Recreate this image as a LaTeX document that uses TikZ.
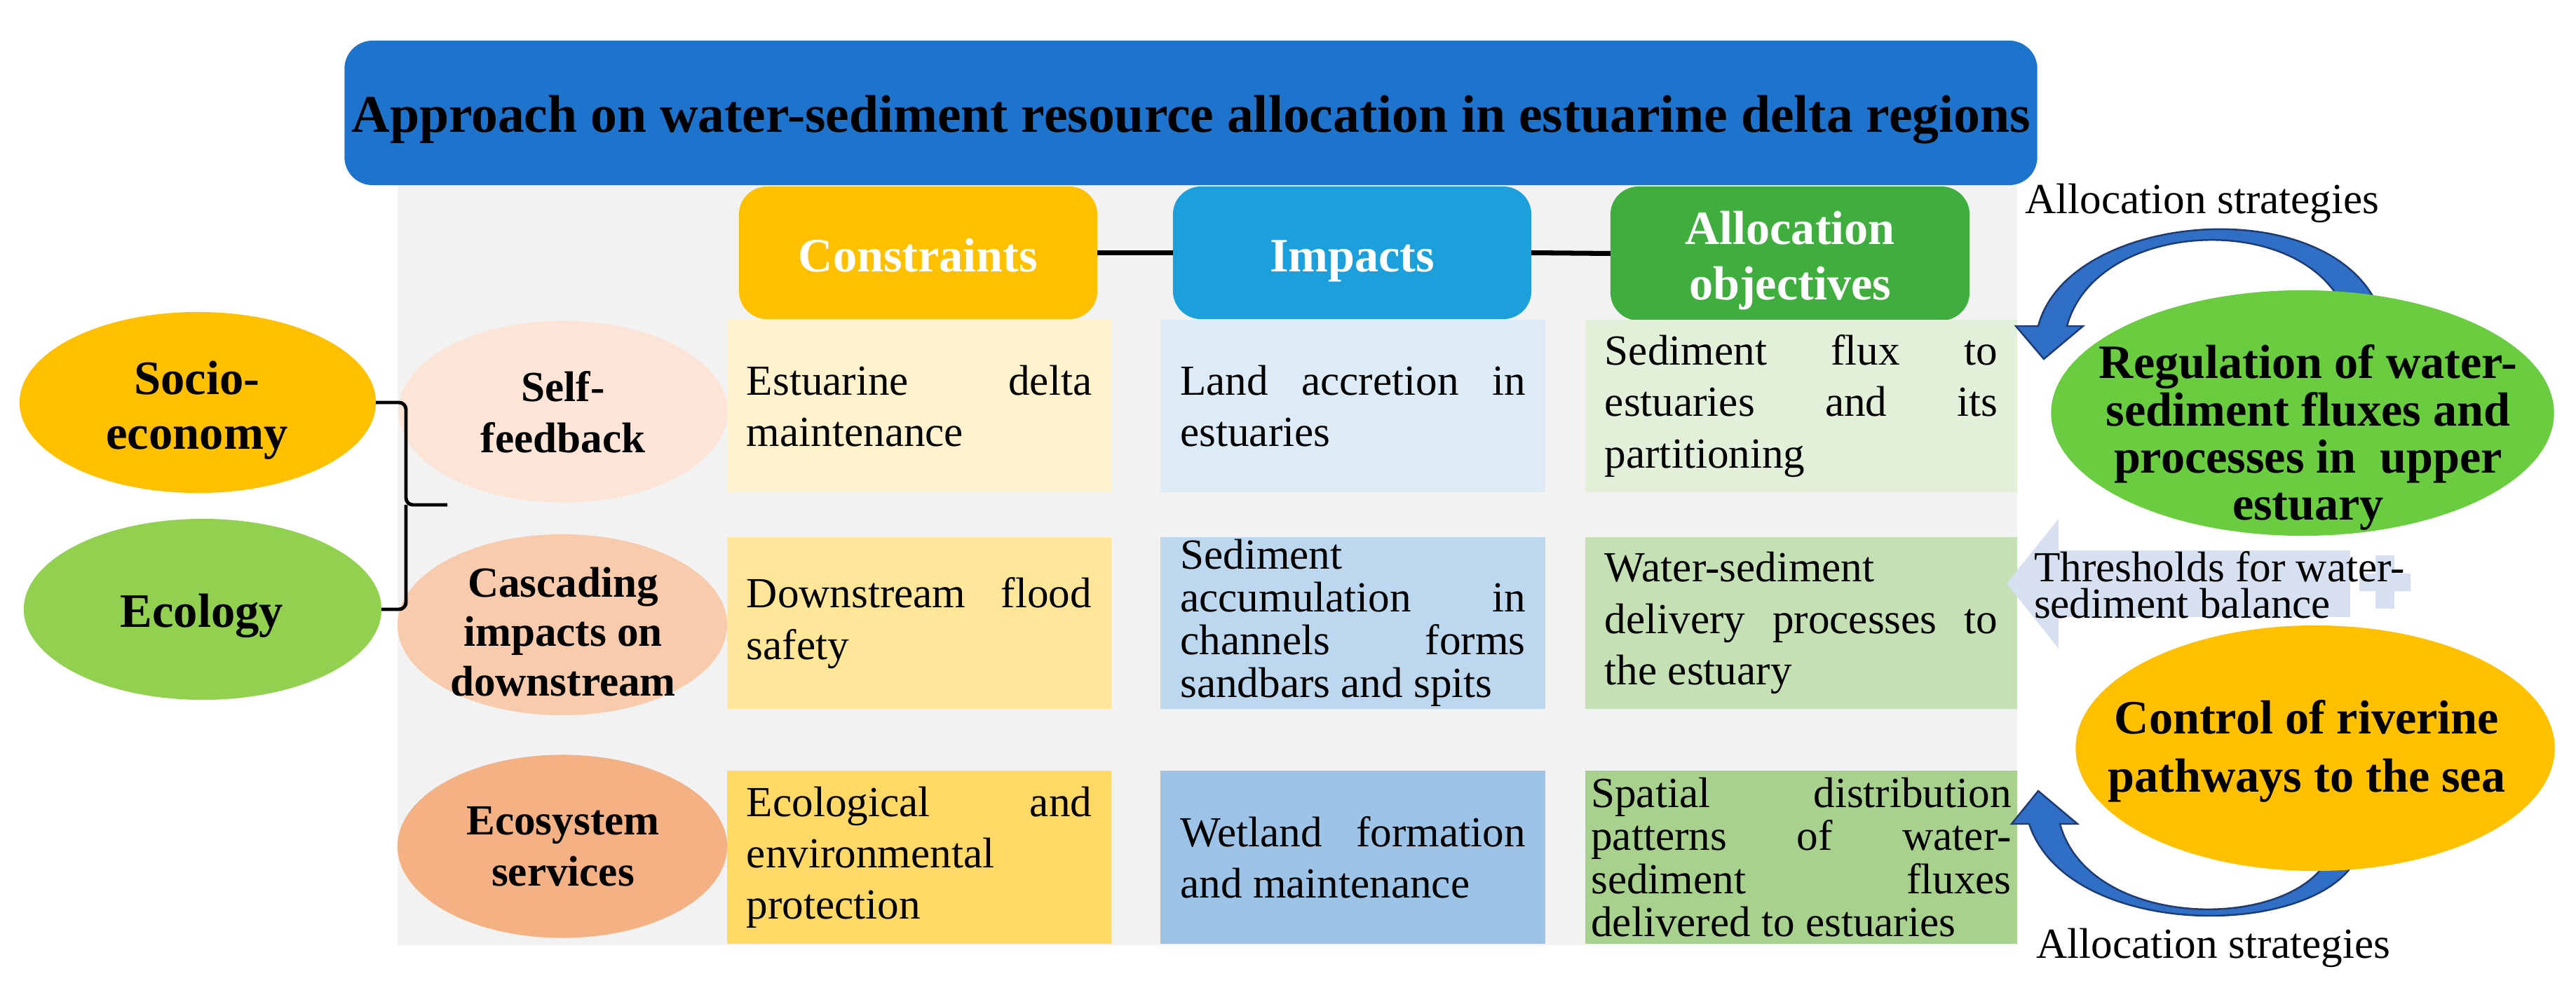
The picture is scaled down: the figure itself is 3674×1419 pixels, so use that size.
\documentclass[tikz,border=0pt]{standalone}
\usepackage{fontspec}
\setmainfont{Liberation Serif}
\usetikzlibrary{shapes.geometric}
\hyphenpenalty=10000
\exhyphenpenalty=10000
\definecolor{titleblue}{HTML}{1E73CD}
\definecolor{bggrey}{HTML}{F2F2F2}
\definecolor{hcons}{HTML}{FFC000}
\definecolor{himp}{HTML}{1CA0DC}
\definecolor{halloc}{HTML}{3FAE3F}
\definecolor{cA}{HTML}{FFF2CC}
\definecolor{cB}{HTML}{FFE699}
\definecolor{cC}{HTML}{FFD966}
\definecolor{iA}{HTML}{DDEBF7}
\definecolor{iB}{HTML}{BDD7EE}
\definecolor{iC}{HTML}{9DC3E6}
\definecolor{aA}{HTML}{E2F0D9}
\definecolor{aB}{HTML}{C5E0B4}
\definecolor{aC}{HTML}{A9D18E}
\definecolor{eA}{HTML}{FCE4D6}
\definecolor{eB}{HTML}{F8CBAD}
\definecolor{eC}{HTML}{F4B183}
\definecolor{sociocol}{HTML}{FFC000}
\definecolor{ecocol}{HTML}{92D050}
\definecolor{regcol}{HTML}{6ACD3F}
\definecolor{ctrlcol}{HTML}{FFC000}
\definecolor{arrowblue}{HTML}{2F6FC6}
\definecolor{arrowdark}{HTML}{1F3B73}
\definecolor{fadeblue}{HTML}{D6E0F0}
\begin{document}
\begin{tikzpicture}[x=0.01cm,y=-0.01cm,
  every node/.style={inner sep=0pt, outer sep=0pt},
  titlebox/.style={rectangle, rounded corners=0.4cm, fill=titleblue, minimum width=24.13cm, minimum height=2.06cm},
  ttext/.style={font=\fontsize{21.5}{25}\selectfont\bfseries},
  hdr/.style={rectangle, rounded corners=0.4cm, minimum width=5.11cm, minimum height=1.89cm},
  htext/.style={text=white, font=\fontsize{19.4}{22.5}\selectfont\bfseries, align=center},
  cell/.style={rectangle, minimum height=2.45cm, align=justify, font=\fontsize{17.4}{20.8}\selectfont},
  ccol/.style={cell, minimum width=5.48cm, text width=4.92cm},
  icol/.style={cell, minimum width=5.49cm, text width=4.92cm},
  acol/.style={cell, minimum width=6.16cm, text width=5.60cm},
  tight/.style={font=\fontsize{17.4}{17.4}\selectfont},
  ellip/.style={ellipse},
  btext/.style={font=\fontsize{19.5}{22}\selectfont\bfseries, align=center},
  etext/.style={font=\fontsize{17.4}{20.8}\selectfont\bfseries, align=center},
  rtext/.style={font=\fontsize{19.4}{19.1}\selectfont\bfseries, align=center},
  plain/.style={font=\fontsize{17.4}{20.8}\selectfont},
  brace/.style={draw=black, line width=1.4pt},
  conn/.style={draw=black, line width=2pt},
  barrow/.style={fill=arrowblue, draw=arrowdark, line width=0.7pt, line join=miter}
]
\useasboundingbox (0,0) rectangle (3674,1419);

% background panel
\fill[bggrey] (567,264) rectangle (2877,1348);

% title
\node[titlebox] (title) at (1698.5,161) {};
\node[ttext, anchor=base] (titlet) at (1698.5,189) {Approach on water-sediment resource allocation in estuarine delta regions};

% headers
\node[hdr, fill=hcons] (hc) at (1309.5,360.5) {};
\node[hdr, fill=himp] (hi) at (1928.5,360.5) {};
\node[hdr, fill=halloc, minimum width=5.12cm, minimum height=1.91cm] (ha) at (2553,361.5) {};
\node[htext, anchor=base] (hct) at (1309.5,388) {Constraints};
\node[htext, anchor=base] (hit) at (1928.5,388) {Impacts};
\node[htext, font=\fontsize{19.4}{22.5}\selectfont\bfseries] (hat) at (2553,372) {Allocation\\objectives};
\draw[conn] (hc.east) -- (hi.west);
\draw[conn] (hi.east) -- (ha.west);

% constraint cells
\node[ccol, fill=cA] (c1) at (1311,579) {Estuarine delta\linebreak maintenance};
\node[ccol, fill=cB] (c2) at (1311,888.5) {Downstream flood\linebreak safety};
\node[ccol, fill=cC, minimum height=2.47cm] (c3) at (1311,1222.5) {Ecological and\linebreak environmental\newline protection};

% impact cells
\node[icol, fill=iA] (i1) at (1929.5,579) {Land accretion in\linebreak estuaries};
\node[icol, fill=iB, tight] (i2) at (1929.5,888.5) {Sediment\newline accumulation in\linebreak channels forms\linebreak sandbars and spits};
\node[icol, fill=iC, minimum height=2.47cm] (i3) at (1929.5,1222.5) {Wetland formation\linebreak and maintenance};

% allocation cells
\node[acol, fill=aA] (a1) at (2569,579) {Sediment flux to\linebreak estuaries and its\linebreak partitioning};
\node[acol, fill=aB] (a2) at (2569,888.5) {Water-sediment\newline delivery processes to\linebreak the estuary};
\node[acol, fill=aC, tight, text width=5.99cm, minimum height=2.47cm] (a3) at (2569,1222.5) {Spatial distribution\linebreak patterns of water-\linebreak sediment fluxes\linebreak delivered to estuaries};

% row ellipses
\node[ellip, fill=eA, minimum width=4.69cm, minimum height=2.59cm] (sf) at (803,587) {};
\node[etext] (sft) at (803,588) {Self-\\feedback};
\node[ellip, fill=eB, minimum width=4.70cm, minimum height=2.58cm] (cd) at (802,891) {};
\node[etext, font=\fontsize{17.4}{20}\selectfont\bfseries] (cdt) at (803,901) {Cascading\\impacts on\\downstream};
\node[ellip, fill=eC, minimum width=4.70cm, minimum height=2.61cm] (es) at (802,1207) {};
\node[etext] (est) at (803,1207) {Ecosystem\\services};

% left ellipses and brace
\node[ellip, fill=sociocol, minimum width=5.08cm, minimum height=2.58cm] (socio) at (282,574) {};
\node[btext] (sociot) at (281,585) {Socio-\\economy};
\node[ellip, fill=ecocol, minimum width=5.10cm, minimum height=2.58cm] (eco) at (289,869) {};
\node[btext, anchor=base] (ecot) at (288,895) {Ecology};
\coordinate (bx) at (579,720);
\coordinate (btip) at (638,720);
\draw[brace, rounded corners=0.1cm] (socio.east) -- (socio.east -| bx) -- (bx) -- (btip);
\draw[brace, rounded corners=0.1cm] (eco.east) -- (eco.east -| bx) -- (bx);

% curved arrows (drawn before the ellipses that hide their tails)
\path[barrow] (2907,465) .. controls (2950,300) and (3330,270) .. (3395,445)
  -- (3345,445) .. controls (3290,300) and (2990,310) .. (2948,465)
  -- (2971,465) -- (2915,512) -- (2875,465) -- cycle;
\path[barrow] (2894,1175) .. controls (2950,1345) and (3320,1340) .. (3365,1215)
  -- (3325,1215) .. controls (3280,1330) and (2980,1330) .. (2938,1175)
  -- (2963,1175) -- (2907,1128) -- (2869,1175) -- cycle;

% right ellipses
\node[ellip, fill=regcol, minimum width=7.17cm, minimum height=3.50cm] (reg) at (3284,589) {};
\node[rtext] (regt) at (3292,624) {Regulation of water-\\sediment fluxes and\\processes in\ \ upper\\estuary};
\node[ellip, fill=ctrlcol, minimum width=6.83cm, minimum height=3.50cm] (ctrl) at (3302,1067) {};
\node[rtext, font=\fontsize{19.4}{23.6}\selectfont\bfseries] (ctrlt) at (3290,1071) {Control of riverine\\pathways to the sea};

% faded threshold arrow
\fill[fadeblue] (2862,832) -- (2936,740) -- (2936,785) -- (3352,785) -- (3352,880) -- (2936,880) -- (2936,925) -- cycle;
\fill[fadeblue] (3388,792) rectangle (3415,868);
\fill[fadeblue] (3365,818) rectangle (3438,843);
\node[plain, font=\fontsize{17.4}{14.8}\selectfont, align=left, anchor=west] (thr) at (2901,834) {Thresholds for water-\\sediment balance};

% strategy labels
\node[plain, anchor=base] (strat1) at (3141,305) {Allocation strategies};
\node[plain, anchor=base] (strat2) at (3157,1366) {Allocation strategies};
\end{tikzpicture}
\end{document}
